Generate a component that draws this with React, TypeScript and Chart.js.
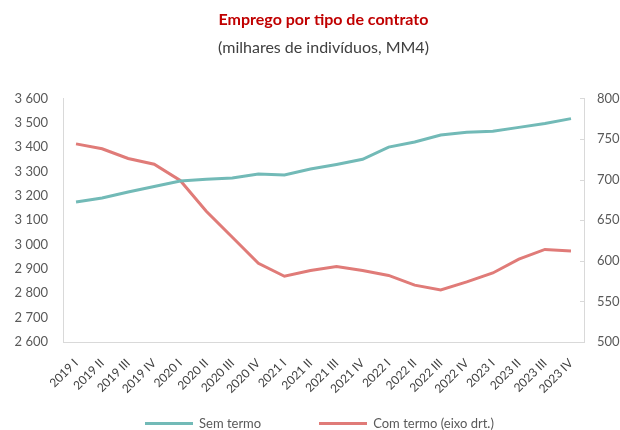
import React, { useEffect, useRef } from "react";
import { Chart, registerables } from "chart.js";

Chart.register(...registerables);

const categories = [
  "2019 I", "2019 II", "2019 III", "2019 IV",
  "2020 I", "2020 II", "2020 III", "2020 IV",
  "2021 I", "2021 II", "2021 III", "2021 IV",
  "2022 I", "2022 II", "2022 III", "2022 IV",
  "2023 I", "2023 II", "2023 III", "2023 IV",
];

const semTermo = [
  3175, 3191, 3216, 3238,
  3261, 3268, 3273, 3290,
  3286, 3310, 3329, 3350,
  3400, 3421, 3450, 3461,
  3465, 3481, 3497, 3517,
];

const comTermo = [
  744, 738, 726, 719,
  699, 661, 629, 597,
  581, 588, 593, 588,
  582, 570, 564, 574,
  585, 602, 614, 612,
];

const TITLE = "Emprego por tipo de contrato";
const SUBTITLE = "(milhares de indivíduos, MM4)";
const LEGEND_LABELS = ["Sem termo", "Com termo (eixo drt.)"];

const TEAL = "#72BAB7";
const RED = "#E07B78";
const AXIS = "#D9D9D9";
const TICK = "#595959";
const FONT = "Lato, 'Open Sans', sans-serif";

const fmt = (v: number) => {
  const s = String(Math.round(v));
  return s.replace(/\B(?=(\d{3})+(?!\d))/g, " ");
};

const innerTicks = {
  id: "innerTicks",
  afterDraw(chart: any) {
    const s = chart.scales.y1;
    const ctx = chart.ctx;
    ctx.save();
    ctx.strokeStyle = AXIS;
    ctx.lineWidth = 1;
    s.ticks.forEach((_t: any, i: number) => {
      const y = Math.round(s.getPixelForTick(i)) + 0.5;
      ctx.beginPath();
      ctx.moveTo(s.left - 4, y);
      ctx.lineTo(s.left + 1, y);
      ctx.stroke();
    });
    ctx.restore();
  },
};

export default function App() {
  const ref = useRef<HTMLCanvasElement | null>(null);

  useEffect(() => {
    if (!ref.current) return;
    const chart = new Chart(ref.current, {
      type: "line",
      data: {
        labels: categories,
        datasets: [
          {
            label: LEGEND_LABELS[0],
            data: semTermo,
            borderColor: TEAL,
            backgroundColor: TEAL,
            borderWidth: 3,
            pointRadius: 0,
            tension: 0,
            yAxisID: "y",
          },
          {
            label: LEGEND_LABELS[1],
            data: comTermo,
            borderColor: RED,
            backgroundColor: RED,
            borderWidth: 3,
            pointRadius: 0,
            tension: 0,
            yAxisID: "y1",
          },
        ],
      },
      options: {
        responsive: false,
        animation: false,
        devicePixelRatio: 1,
        layout: { padding: 0 },
        plugins: {
          legend: { display: false },
          tooltip: { enabled: false },
          title: {
            display: true,
            fullSize: false,
            text: TITLE,
            color: "#C00000",
            font: { family: FONT, size: 16, weight: "bold" },
            padding: { top: 10, bottom: 9 },
          },
          subtitle: {
            display: true,
            fullSize: false,
            text: SUBTITLE,
            color: "#404040",
            font: { family: FONT, size: 16 },
            padding: { top: 0, bottom: 41 },
          },
        },
        scales: {
          x: {
            offset: true,
            grid: { display: false },
            border: { display: true, color: AXIS, width: 1 },
            ticks: {
              color: "#404040",
              font: { family: FONT, size: 12 },
              minRotation: 45,
              maxRotation: 45,
              autoSkip: false,
              padding: 6,
            },
            afterFit(scale: any) {
              scale.height = 88;
            },
          },
          y: {
            position: "left",
            min: 2600,
            max: 3600,
            grid: { display: false },
            border: { display: true, color: AXIS, width: 1 },
            ticks: {
              stepSize: 100,
              color: TICK,
              font: { family: FONT, size: 13 },
              padding: 7,
              callback: (v: any) => fmt(Number(v)),
            },
            afterFit(scale: any) {
              scale.width = 63;
            },
          },
          y1: {
            position: "right",
            min: 500,
            max: 800,
            grid: { display: false },
            border: { display: true, color: AXIS, width: 1 },
            ticks: {
              stepSize: 50,
              color: TICK,
              font: { family: FONT, size: 13 },
              padding: 5,
              callback: (v: any) => fmt(Number(v)),
            },
            afterFit(scale: any) {
              scale.width = 36;
            },
          },
        },
      } as any,
      plugins: [innerTicks],
    });
    return () => chart.destroy();
  }, []);

  const legendItem = (label: string, color: string) => (
    <div style={{ display: "flex", alignItems: "center" }}>
      <div style={{ width: 48, height: 3, background: color, marginRight: 6 }} />
      <span>{label}</span>
    </div>
  );

  return (
    <div style={{ position: "absolute", left: 0, top: 0, width: 620, height: 430, background: "#fff" }}>
      <canvas ref={ref} width={620} height={430} style={{ display: "block" }} />
      <div
        style={{
          position: "absolute",
          left: 145,
          top: 415,
          display: "flex",
          gap: 58,
          fontFamily: FONT,
          fontSize: 13,
          color: TICK,
          lineHeight: "16px",
        }}
      >
        {legendItem(LEGEND_LABELS[0], TEAL)}
        {legendItem(LEGEND_LABELS[1], RED)}
      </div>
    </div>
  );
}
